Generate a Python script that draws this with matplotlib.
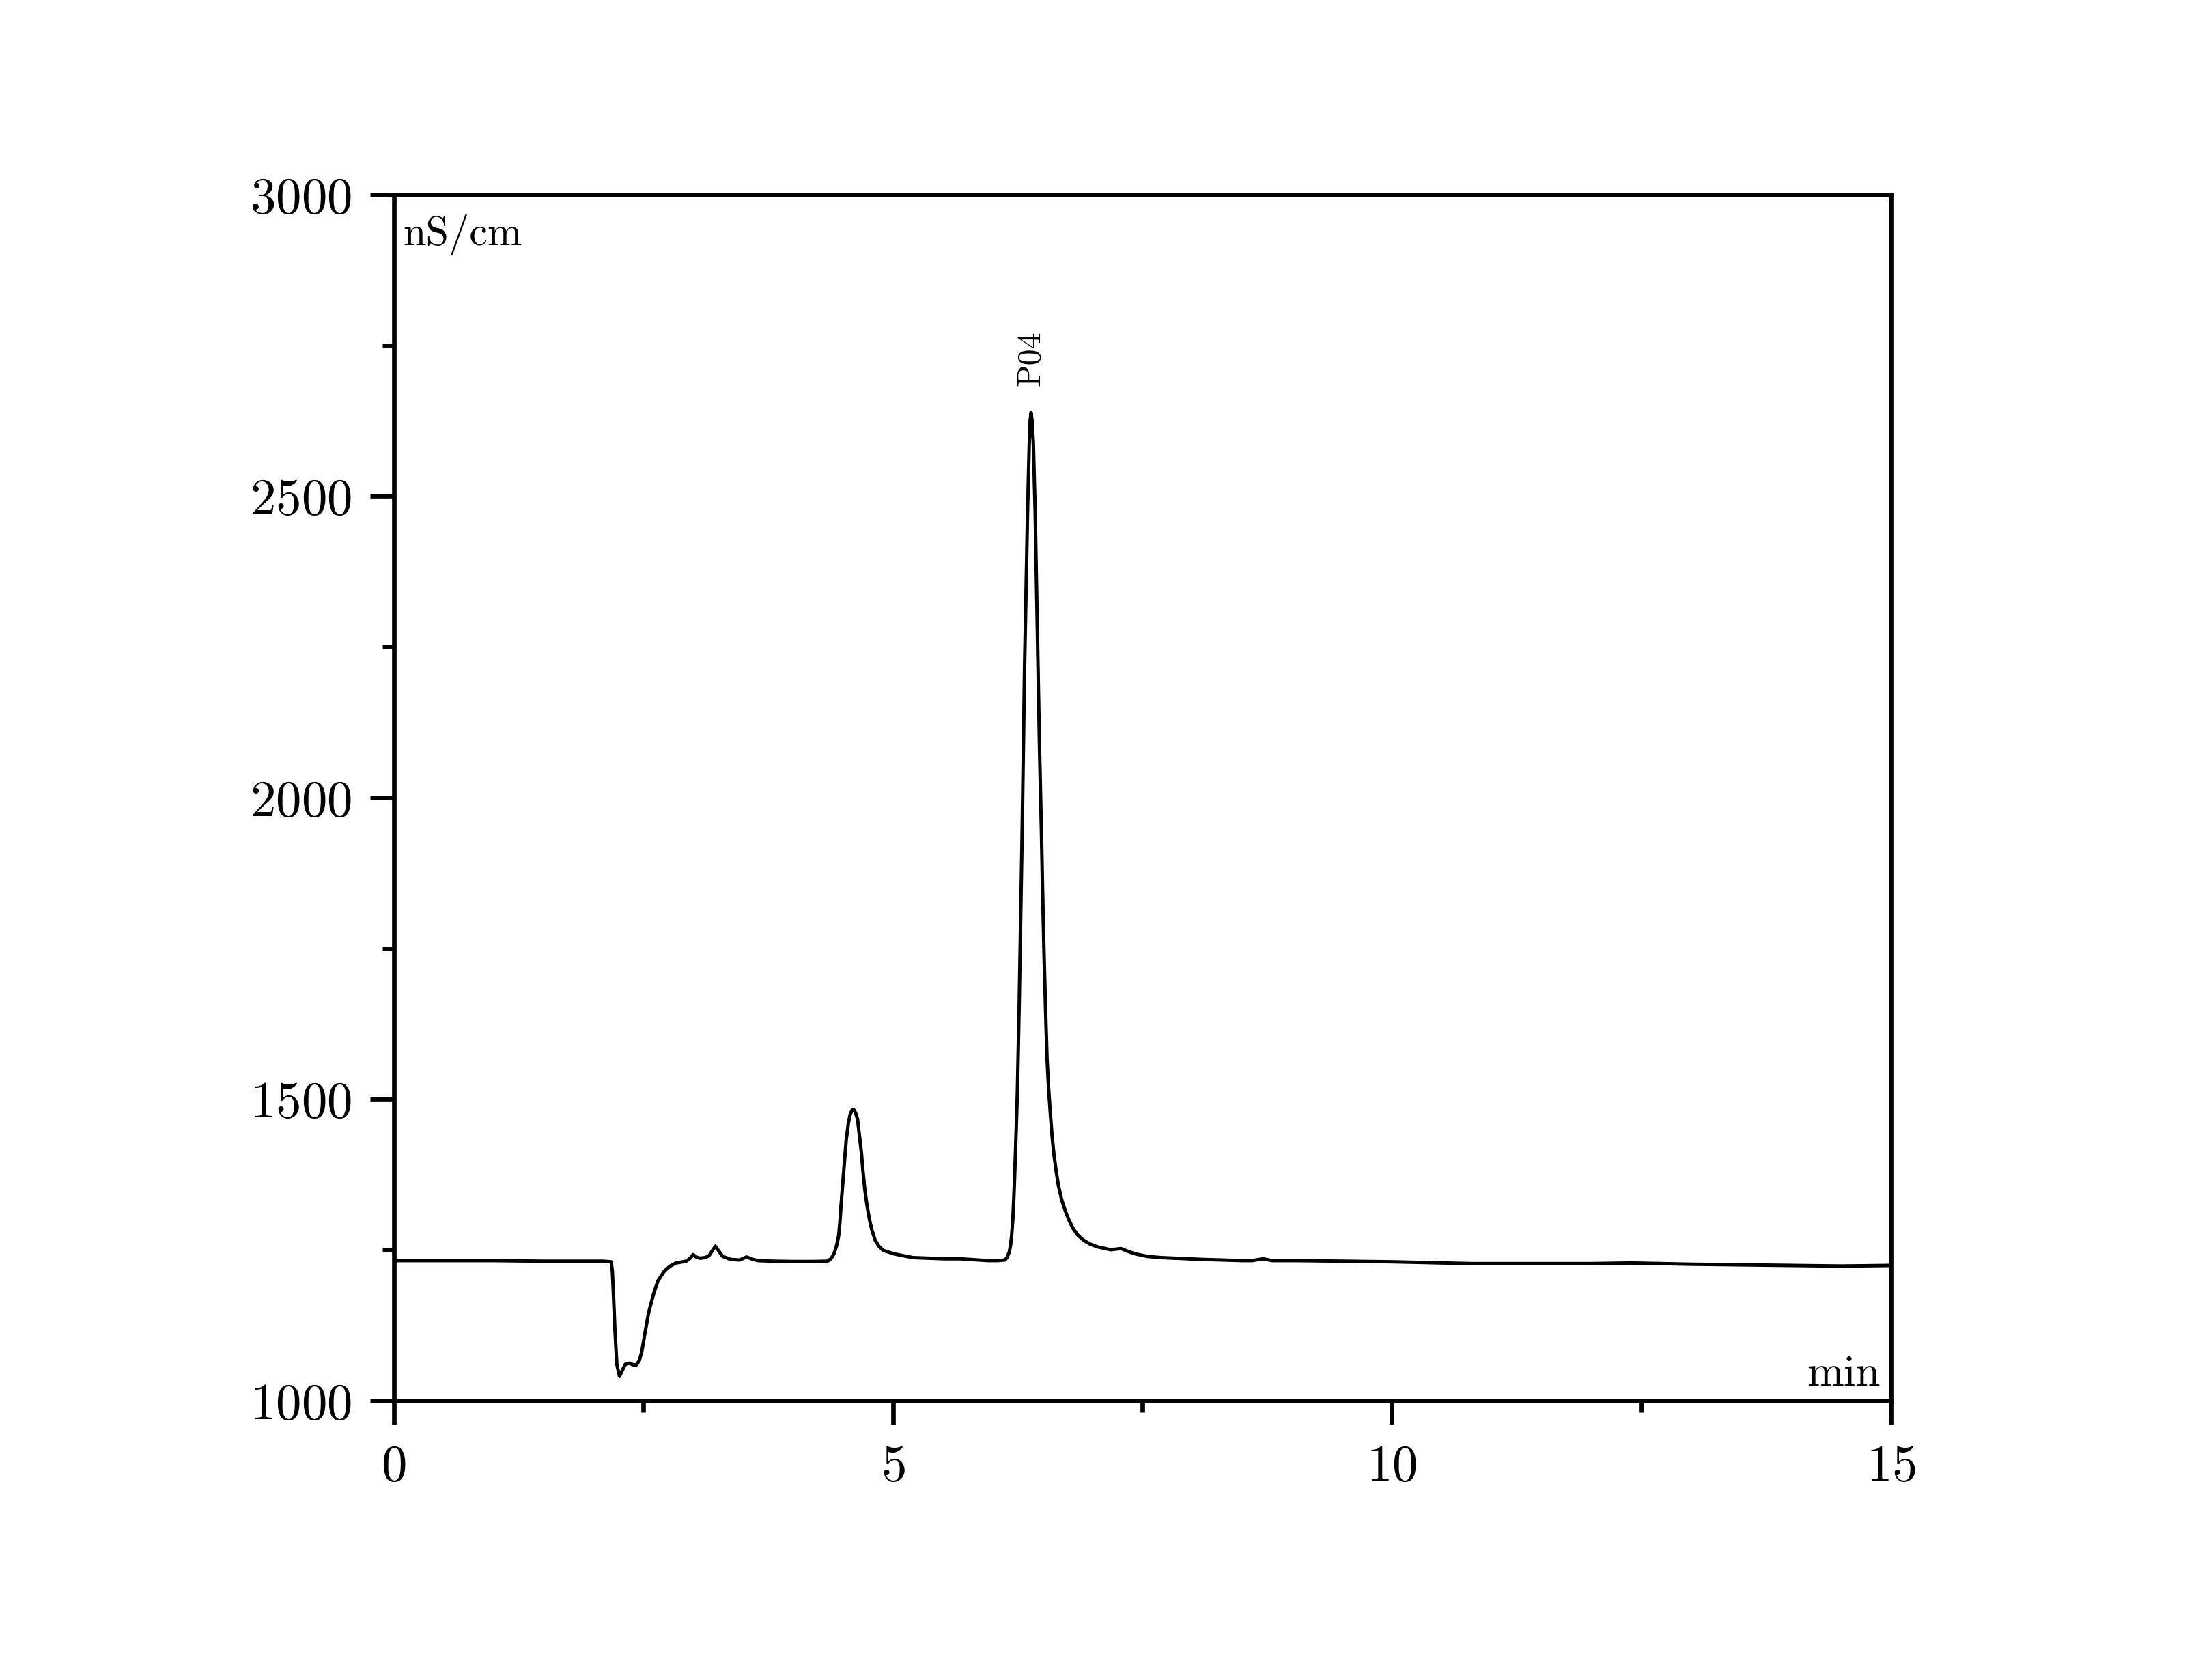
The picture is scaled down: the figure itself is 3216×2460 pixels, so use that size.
import numpy as np
import matplotlib
matplotlib.use("Agg")
import matplotlib.pyplot as plt
from matplotlib.ticker import MultipleLocator

# Chromatogram trace (time in min, signal in nS/cm)
time_min = [0.00, 0.50, 1.00, 1.50, 1.87, 2.10, 2.178, 2.19, 2.20, 2.215,
            2.235, 2.262, 2.29, 2.32, 2.36, 2.40, 2.43, 2.46, 2.485, 2.52,
            2.554, 2.60, 2.645, 2.713, 2.77, 2.827, 2.93, 2.97, 2.999, 3.03,
            3.067, 3.12, 3.158, 3.19, 3.222, 3.26, 3.295, 3.375, 3.466, 3.534,
            3.60, 3.648, 3.80, 4.00, 4.20, 4.345, 4.38, 4.41, 4.42, 4.435,
            4.445, 4.458, 4.47, 4.481, 4.504, 4.533, 4.555, 4.572, 4.59, 4.606,
            4.627, 4.647, 4.665, 4.686, 4.70, 4.72, 4.743, 4.766, 4.79, 4.823,
            4.86, 4.903, 5.017, 5.20, 5.518, 5.678, 5.952, 6.05, 6.123, 6.145,
            6.168, 6.18, 6.191, 6.203, 6.214, 6.23, 6.248, 6.266, 6.295, 6.32,
            6.35, 6.367, 6.376, 6.385, 6.395, 6.408, 6.426, 6.455, 6.47, 6.49,
            6.50, 6.515, 6.53, 6.545, 6.56, 6.579, 6.595, 6.613, 6.635, 6.659,
            6.69, 6.727, 6.765, 6.807, 6.855, 6.91, 6.97, 7.047, 7.183, 7.286,
            7.36, 7.434, 7.55, 7.685, 8.095, 8.506, 8.60, 8.711, 8.80, 9.053,
            10.0, 10.8, 11.5, 12.0, 12.4, 13.0, 14.0, 14.5, 15.0]
signal = [1232, 1232, 1232, 1231, 1231, 1231, 1230, 1215, 1180, 1120,
          1060, 1040, 1050, 1060, 1062, 1059, 1059, 1066, 1081, 1115,
          1146, 1175, 1198, 1215, 1223, 1228, 1231, 1236, 1242, 1238,
          1236, 1237, 1240, 1248, 1256, 1247, 1239, 1234, 1233, 1238,
          1234, 1232, 1231, 1230.5, 1230.5, 1231, 1235, 1243, 1248, 1256,
          1263, 1274, 1296, 1323, 1372, 1432, 1460, 1474, 1481, 1483,
          1477, 1466, 1440, 1410, 1382, 1349, 1322, 1300, 1283, 1266,
          1256, 1249, 1243, 1237, 1235, 1235, 1232, 1232, 1233, 1237,
          1247, 1258, 1274, 1302, 1342, 1417, 1512, 1655, 1935, 2217,
          2474, 2587, 2625, 2638, 2625, 2587, 2474, 2217, 2080, 1935,
          1850, 1740, 1650, 1568, 1520, 1474, 1440, 1410, 1382, 1357,
          1334, 1315, 1299, 1285, 1274, 1266, 1260, 1255, 1250, 1252,
          1247, 1243, 1239, 1237, 1234, 1232, 1232, 1235, 1232, 1232,
          1230, 1227, 1227, 1227, 1228, 1226, 1224, 1223, 1224]

peak_name = "P04"
peak_time = 6.385
peak_label_y = 2684

plt.rcParams['font.family'] = ['cmr10', 'DejaVu Serif']
plt.rcParams['axes.formatter.use_mathtext'] = True

fig = plt.figure(figsize=(10.72, 8.203), dpi=300)
ax = fig.add_axes([0.1793, 0.1663, 0.6818, 0.7176])

ax.plot(time_min, signal, color='black', lw=1.2)

ax.set_xlim(0, 15)
ax.set_ylim(1000, 3000)
ax.xaxis.set_major_locator(MultipleLocator(5))
ax.xaxis.set_minor_locator(MultipleLocator(2.5))
ax.yaxis.set_major_locator(MultipleLocator(500))
ax.yaxis.set_minor_locator(MultipleLocator(250))

ax.tick_params(which='both', direction='out', width=1.6, labelsize=18,
               top=False, right=False)
ax.tick_params(which='major', length=8.4)
ax.tick_params(which='minor', length=4.1)
ax.tick_params(axis='y', pad=6.5)
ax.tick_params(axis='x', pad=7)
for sp in ax.spines.values():
    sp.set_linewidth(1.6)

# unit labels inside the frame
ax.text(0.006, 0.984, "nS/cm", transform=ax.transAxes, ha='left', va='top', fontsize=14.5)
ax.text(0.9927, 0.013, "min", transform=ax.transAxes, ha='right', va='baseline', fontsize=15.5)

# peak annotation
ax.text(peak_time, peak_label_y, peak_name, rotation=90, ha='center', va='bottom', fontsize=11.5)

fig.savefig("out.png", dpi=300)
